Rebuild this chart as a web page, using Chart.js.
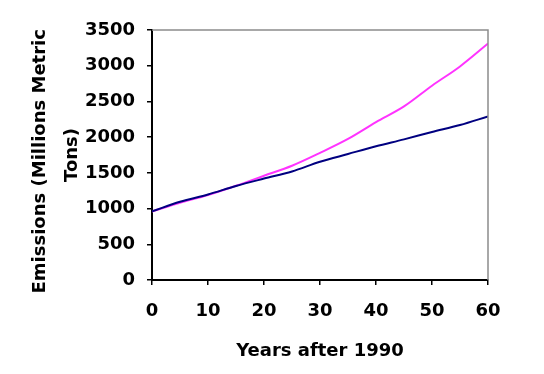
<!DOCTYPE html>
<html>
<head>
<meta charset="utf-8">
<script src="https://cdn.jsdelivr.net/npm/chart.js@4"></script>
<style>
  html, body { margin: 0; padding: 0; background: #fff; }
  canvas { display: block; }
</style>
</head>
<body>
<canvas id="emissionsChart" width="544" height="374"></canvas>
<script>
// years after 1990
const years = [0, 5, 10, 15, 20, 25, 30, 35, 40, 45, 50, 55, 60];
// magenta (faster growing) series
const pinkSeries = [960, 1080, 1190, 1320, 1460, 1600, 1780, 1975, 2210, 2430, 2720, 2990, 3310];
// navy series
const navySeries = [960, 1095, 1197, 1316, 1420, 1520, 1655, 1764, 1872, 1969, 2072, 2170, 2290];
const yTitle = ["Emissions (Millions Metric  ", "Tons)"];
const xTitle = "Years after 1990";

document.addEventListener("DOMContentLoaded", function () {
    const ctx = document.getElementById("emissionsChart").getContext("2d");
    const font = { family: "DejaVu Sans", weight: "bold", size: 18 };

    // gray frame on top and right of the plot area
    const framePlugin = {
        id: "frame",
        afterDraw(chart) {
            const a = chart.chartArea;
            const c = chart.ctx;
            c.save();
            c.strokeStyle = "#8c8c8c";
            c.lineWidth = 1.5;
            c.beginPath();
            c.moveTo(a.left, a.top);
            c.lineTo(a.right, a.top);
            c.lineTo(a.right, a.bottom);
            c.stroke();
            c.restore();
        }
    };

    new Chart(ctx, {
        type: "line",
        data: {
            datasets: [
                {
                    label: "Navy",
                    data: years.map((x, i) => ({ x: x, y: navySeries[i] })),
                    borderColor: "#000080",
                    borderWidth: 2,
                    pointRadius: 0,
                    cubicInterpolationMode: "monotone",
                    fill: false,
                },
                {
                    label: "Pink",
                    data: years.map((x, i) => ({ x: x, y: pinkSeries[i] })),
                    borderColor: "#ff33ff",
                    borderWidth: 2,
                    pointRadius: 0,
                    cubicInterpolationMode: "monotone",
                    fill: false,
                },
            ],
        },
        options: {
            responsive: false,
            animation: false,
            layout: { padding: { top: 30, right: 56, left: 0, bottom: 0 } },
            plugins: {
                legend: { display: false },
                tooltip: { enabled: false },
            },
            scales: {
                x: {
                    type: "linear",
                    min: 0,
                    max: 60,
                    afterFit: (scale) => { scale.height = 94; },
                    ticks: { stepSize: 10, color: "#000", font: font, padding: 16, maxRotation: 0, callback: (v) => String(v) },
                    grid: { drawOnChartArea: false, drawTicks: true, tickLength: 5, color: "#000", lineWidth: 1.5 },
                    border: { color: "#000", width: 2 },
                    title: {
                        display: true,
                        text: xTitle,
                        color: "#000",
                        font: { family: "DejaVu Sans", weight: "bold", size: 18, lineHeight: 1.2 },
                        padding: { top: 0, bottom: 12 },
                    },
                },
                y: {
                    min: 0,
                    max: 3500,
                    afterFit: (scale) => { scale.width = 152; },
                    ticks: { stepSize: 500, color: "#000", font: font, padding: 12, callback: (v) => String(v) },
                    grid: { drawOnChartArea: false, drawTicks: true, tickLength: 5, color: "#000", lineWidth: 1.5 },
                    border: { color: "#000", width: 2 },
                    title: {
                        display: true,
                        text: yTitle,
                        color: "#000",
                        font: { family: "DejaVu Sans", weight: "bold", size: 18, lineHeight: 1.78 },
                        padding: { top: 24, bottom: 0 },
                    },
                },
            },
        },
        plugins: [framePlugin],
    });
});
</script>
</body>
</html>
